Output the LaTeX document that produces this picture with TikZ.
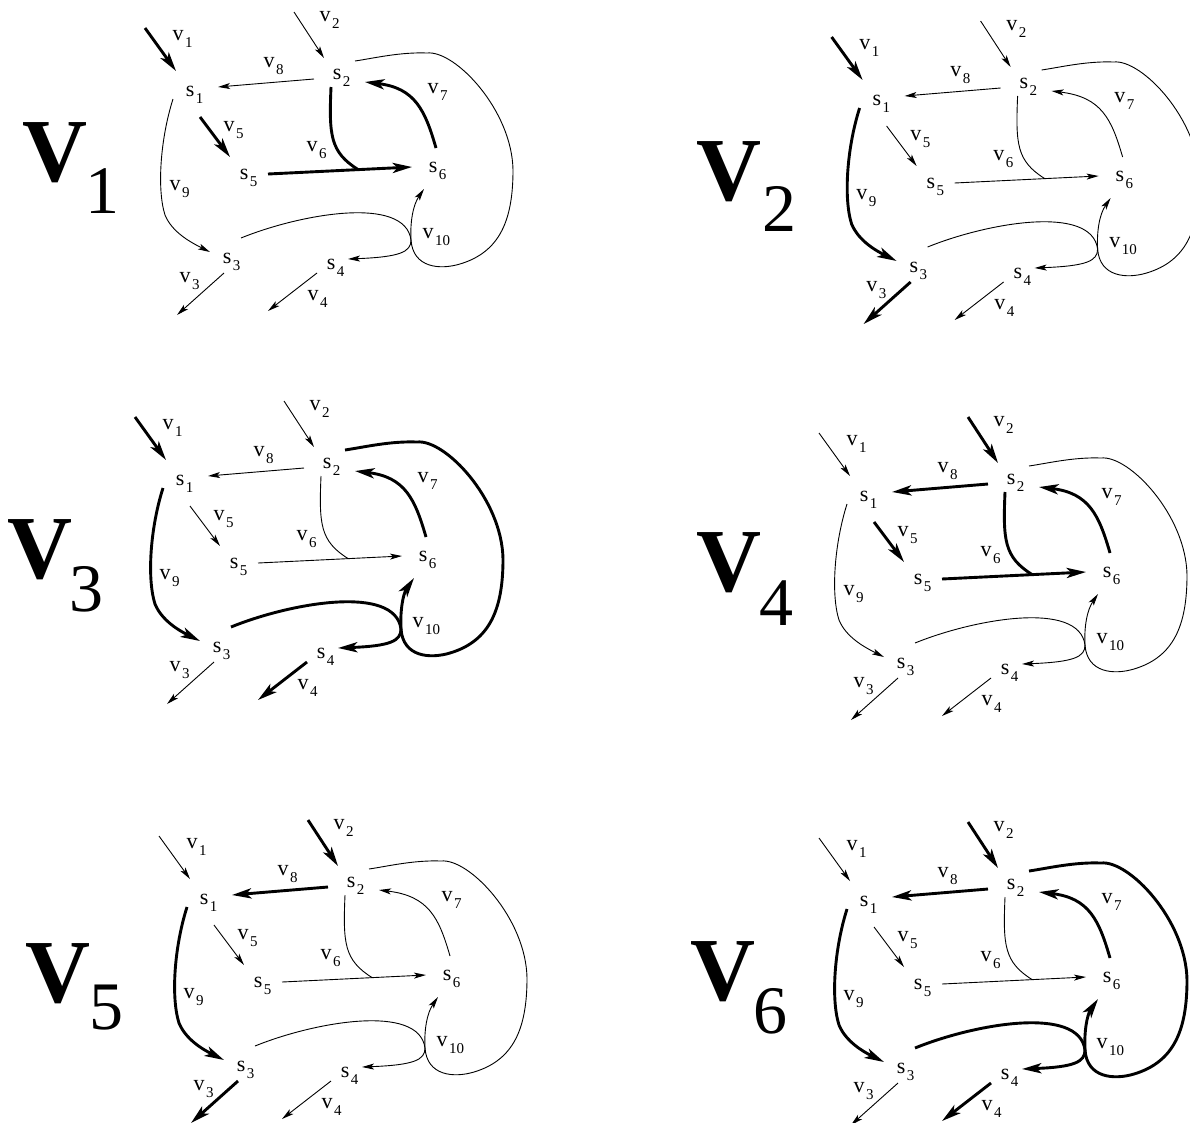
\documentclass[tikz,border=0pt]{standalone}
\usepackage{fontspec}
\setmainfont{Liberation Serif}
\usetikzlibrary{arrows.meta}
\newcommand\slab[2]{#1\hspace{1.5pt}\raisebox{-7.5pt}{\fontsize{15}{15}\selectfont #2}}
\tikzset{
  thinln/.style={line width=0.9pt},
  boldln/.style={line width=2.9pt},
  arr/.style={-{Stealth[length=8.7pt 3.7,width=4.1pt 2.1,inset=2pt 1]}},
  e1/.style={thinln}, e2/.style={thinln}, e3/.style={thinln}, e4/.style={thinln},
  e5/.style={thinln}, e6/.style={thinln}, e7/.style={thinln}, e8/.style={thinln},
  e9/.style={thinln}, e10/.style={thinln},
  slbl/.style={inner sep=0pt, anchor=base west, xshift=-4.3pt, yshift=-5pt, font=\fontsize{22}{22}\selectfont},
  vlbl/.style={inner sep=0pt, anchor=base west, xshift=-5.5pt, yshift=-5pt, font=\fontsize{22}{22}\selectfont},
  bigV/.style={inner sep=0pt, anchor=base, font=\fontsize{90}{90}\selectfont\bfseries},
  bignum/.style={inner sep=0pt, anchor=base, font=\fontsize{68}{68}\selectfont},
}
\newcommand\graphpanel[4]{%
\begin{scope}[shift={(#2,#3)}, name prefix=#1-, #4]
  \node[slbl] (s1) at (190,91) {\slab{s}{1}};
  \node[slbl] (s2) at (337,74) {\slab{s}{2}};
  \node[slbl] (s3) at (227,258) {\slab{s}{3}};
  \node[slbl] (s4) at (331,264) {\slab{s}{4}};
  \node[slbl] (s5) at (244,174) {\slab{s}{5}};
  \node[slbl] (s6) at (433,167) {\slab{s}{6}};
  \coordinate (v1a) at (145,28);  \coordinate (v1b) at (176,71);
  \coordinate (v2a) at (294,12);  \coordinate (v2b) at (324,58);
  \coordinate (v8a) at (314,79);  \coordinate (v8b) at (218,87);
  \coordinate (v5a) at (200,117); \coordinate (v5b) at (230,157);
  \coordinate (v6a) at (268,174); \coordinate (v6b) at (412,167);
  \coordinate (v6c) at (331,87);  \coordinate (v6m) at (358,169.5);
  \coordinate (v7a) at (436,148); \coordinate (v7b) at (365,82);
  \coordinate (v9a) at (173,99);  \coordinate (v9b) at (210,252);
  \coordinate (v3a) at (224,273); \coordinate (v3b) at (177,315);
  \coordinate (v4a) at (317,273); \coordinate (v4b) at (268,311);
  \coordinate (v10a) at (241,238); \coordinate (v10j) at (411,240);
  \coordinate (v10c) at (355,61);  \coordinate (v10x) at (424,189);
  \coordinate (v10y) at (348,259);
  \draw[e1,arr] (v1a) -- (v1b);
  \draw[e2,arr] (v2a) -- (v2b);
  \draw[e8,arr] (v8a) -- (v8b);
  \draw[e5,arr] (v5a) -- (v5b);
  \draw[e6,arr] (v6a) -- (v6b);
  \draw[e6] (v6c) .. controls (329,135) and (330,152) .. (v6m);
  \draw[e7,arr] (v7a) .. controls (425,110) and (415,88) .. (v7b);
  \draw[e9,arr] (v9a) .. controls (160,140) and (157,190) .. (165,215)
                       .. controls (172,232) and (190,242) .. (v9b);
  \draw[e3,arr] (v3a) -- (v3b);
  \draw[e4,arr] (v4a) -- (v4b);
  \draw[e10] (v10a) .. controls (300,214) and (405,195) .. (v10j)
                    .. controls (413,268) and (440,270) .. (460,264)
                    .. controls (500,252) and (513,220) .. (513,170)
                    .. controls (512,110) and (455,50) .. (427,53)
                    .. controls (400,52) and (375,58) .. (v10c);
  \draw[e10,arr] (v10j) .. controls (410,222) and (413,205) .. (v10x);
  \draw[e10,arr] (v10j) .. controls (411,252) and (400,257) .. (v10y);
  \node[vlbl] (l1) at (178,35) {\slab{v}{1}};
  \node[vlbl] (l2) at (325,16) {\slab{v}{2}};
  \node[vlbl] (l8) at (269,62) {\slab{v}{8}};
  \node[vlbl] (l5) at (229,126) {\slab{v}{5}};
  \node[vlbl] (l6) at (312,146) {\slab{v}{6}};
  \node[vlbl] (l7) at (433,88) {\slab{v}{7}};
  \node[vlbl] (l9) at (175,185) {\slab{v}{9}};
  \node[vlbl] (l3) at (185,277) {\slab{v}{3}};
  \node[vlbl] (l4) at (313,295) {\slab{v}{4}};
  \node[vlbl] (l10) at (428,233) {\slab{v}{10}};
\end{scope}}
\begin{document}
\begin{tikzpicture}[x=1pt,y=-1pt]
  \fill[white] (0,0) rectangle (1190,1122);
  \useasboundingbox (0,0) rectangle (1190,1122);
  \clip (0,0) rectangle (1190,1122);
  \graphpanel{P1}{0}{0}{e1/.style={boldln}, e5/.style={boldln}, e6/.style={boldln}, e7/.style={boldln}}
  \graphpanel{P2}{686.6}{9}{e1/.style={boldln}, e9/.style={boldln}, e3/.style={boldln}}
  \graphpanel{P3}{-10}{389}{e1/.style={boldln}, e9/.style={boldln}, e7/.style={boldln}, e10/.style={boldln}, e4/.style={boldln}}
  \graphpanel{P4}{674}{405}{e2/.style={boldln}, e8/.style={boldln}, e5/.style={boldln}, e6/.style={boldln}, e7/.style={boldln}}
  \graphpanel{P5}{14}{808}{e2/.style={boldln}, e8/.style={boldln}, e9/.style={boldln}, e3/.style={boldln}}
  \graphpanel{P6}{674}{810}{e2/.style={boldln}, e8/.style={boldln}, e9/.style={boldln}, e7/.style={boldln}, e10/.style={boldln}, e4/.style={boldln}}
  \node[bigV] (V1) at (55,181.7) {V};   \node[bignum] (n1) at (102.5,213.7) {1};
  \node[bigV] (V2) at (729,200) {V};    \node[bignum] (n2) at (779,231) {2};
  \node[bigV] (V3) at (40,578) {V};     \node[bignum] (n3) at (86,611) {3};
  \node[bigV] (V4) at (729,591) {V};    \node[bignum] (n4) at (776,625) {4};
  \node[bigV] (V5) at (58,1002) {V};    \node[bignum] (n5) at (106,1029) {5};
  \node[bigV] (V6) at (723,1000) {V};   \node[bignum] (n6) at (770,1033) {6};
\end{tikzpicture}
\end{document}
